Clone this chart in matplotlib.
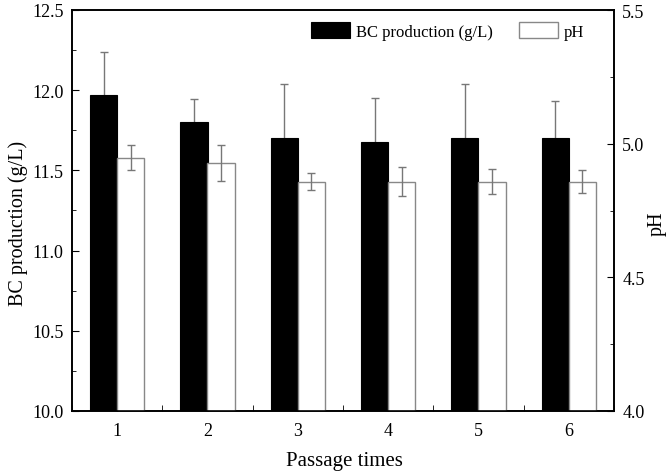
import matplotlib

matplotlib.use("Agg")
import matplotlib.pyplot as plt
import numpy as np
from matplotlib.ticker import MultipleLocator

plt.rcParams["font.family"] = ["Liberation Serif", "DejaVu Serif"]

# 数据
passage = [1, 2, 3, 4, 5, 6]
bc_mean = [11.97, 11.80, 11.70, 11.68, 11.70, 11.70]
bc_err = [0.27, 0.145, 0.34, 0.27, 0.34, 0.23]
ph_mean = [4.948, 4.928, 4.858, 4.858, 4.858, 4.858]
ph_err = [0.046, 0.066, 0.032, 0.054, 0.046, 0.042]

x = np.array(passage, dtype=float)
width = 0.3

fig = plt.figure(figsize=(6.72, 4.77), dpi=100)
ax = fig.add_axes([72 / 672, 65 / 477, 542 / 672, 401 / 477])
ax2 = ax.twinx()

# BC 柱 (误差线放在柱下面，只露出上半部分)
ax.errorbar(x - width / 2, bc_mean, yerr=bc_err, fmt="none", ecolor="#777777",
            elinewidth=1, capsize=3, capthick=1, zorder=1)
ax.bar(x - width / 2, bc_mean, width, color="black", edgecolor="black",
       linewidth=0.8, label="BC production (g/L)", zorder=2)

# pH 柱
ax2.bar(x + width / 2, ph_mean, width, color="white", edgecolor="#888888",
        linewidth=1, label="pH", zorder=2)
ax2.errorbar(x + width / 2, ph_mean, yerr=ph_err, fmt="none", ecolor="#777777",
             elinewidth=1, capsize=3, capthick=1, zorder=3)

ax.set_xlim(0.5, 6.5)
ax.set_ylim(10.0, 12.5)
ax2.set_ylim(4.0, 5.5)

ax.set_xticks(passage)
ax.xaxis.set_minor_locator(MultipleLocator(0.5))
ax.yaxis.set_major_locator(MultipleLocator(0.5))
ax.yaxis.set_minor_locator(MultipleLocator(0.25))
ax2.yaxis.set_major_locator(MultipleLocator(0.5))
ax2.yaxis.set_minor_locator(MultipleLocator(0.25))
ax.yaxis.set_major_formatter(plt.FormatStrFormatter("%.1f"))
ax2.yaxis.set_major_formatter(plt.FormatStrFormatter("%.1f"))

ax.tick_params(axis="both", which="both", direction="in", labelsize=13)
ax.tick_params(which="major", length=5)
ax.tick_params(which="minor", length=3)
ax.tick_params(axis="x", which="both", pad=8)
ax.tick_params(axis="x", which="minor", length=4)
ax.tick_params(axis="y", which="both", pad=6)
ax2.tick_params(axis="y", which="both", direction="in", labelsize=13, pad=6)
ax2.tick_params(which="major", length=5)
ax2.tick_params(which="minor", length=3)

ax.set_xlabel("Passage times", fontsize=15)
ax.set_ylabel("BC production (g/L)", fontsize=14.5)
ax2.set_ylabel("pH", fontsize=14.5)
ax.xaxis.set_label_coords(0.503, -0.10)
ax.yaxis.set_label_coords(-0.0815, 0.469)
ax2.yaxis.set_label_coords(1.0627, 0.469)

for a in (ax, ax2):
    for s in a.spines.values():
        s.set_linewidth(1.2)

h1, l1 = ax.get_legend_handles_labels()
h2, l2 = ax2.get_legend_handles_labels()
ax2.legend(h1 + h2, l1 + l2, loc="upper right", ncol=2, frameon=False,
           fontsize=12, handlelength=2.34, handleheight=1.14, columnspacing=1.56,
           handletextpad=0.36, borderpad=0, borderaxespad=0,
           bbox_to_anchor=(0.9446, 0.970))

fig.savefig("out.png", dpi=100)
